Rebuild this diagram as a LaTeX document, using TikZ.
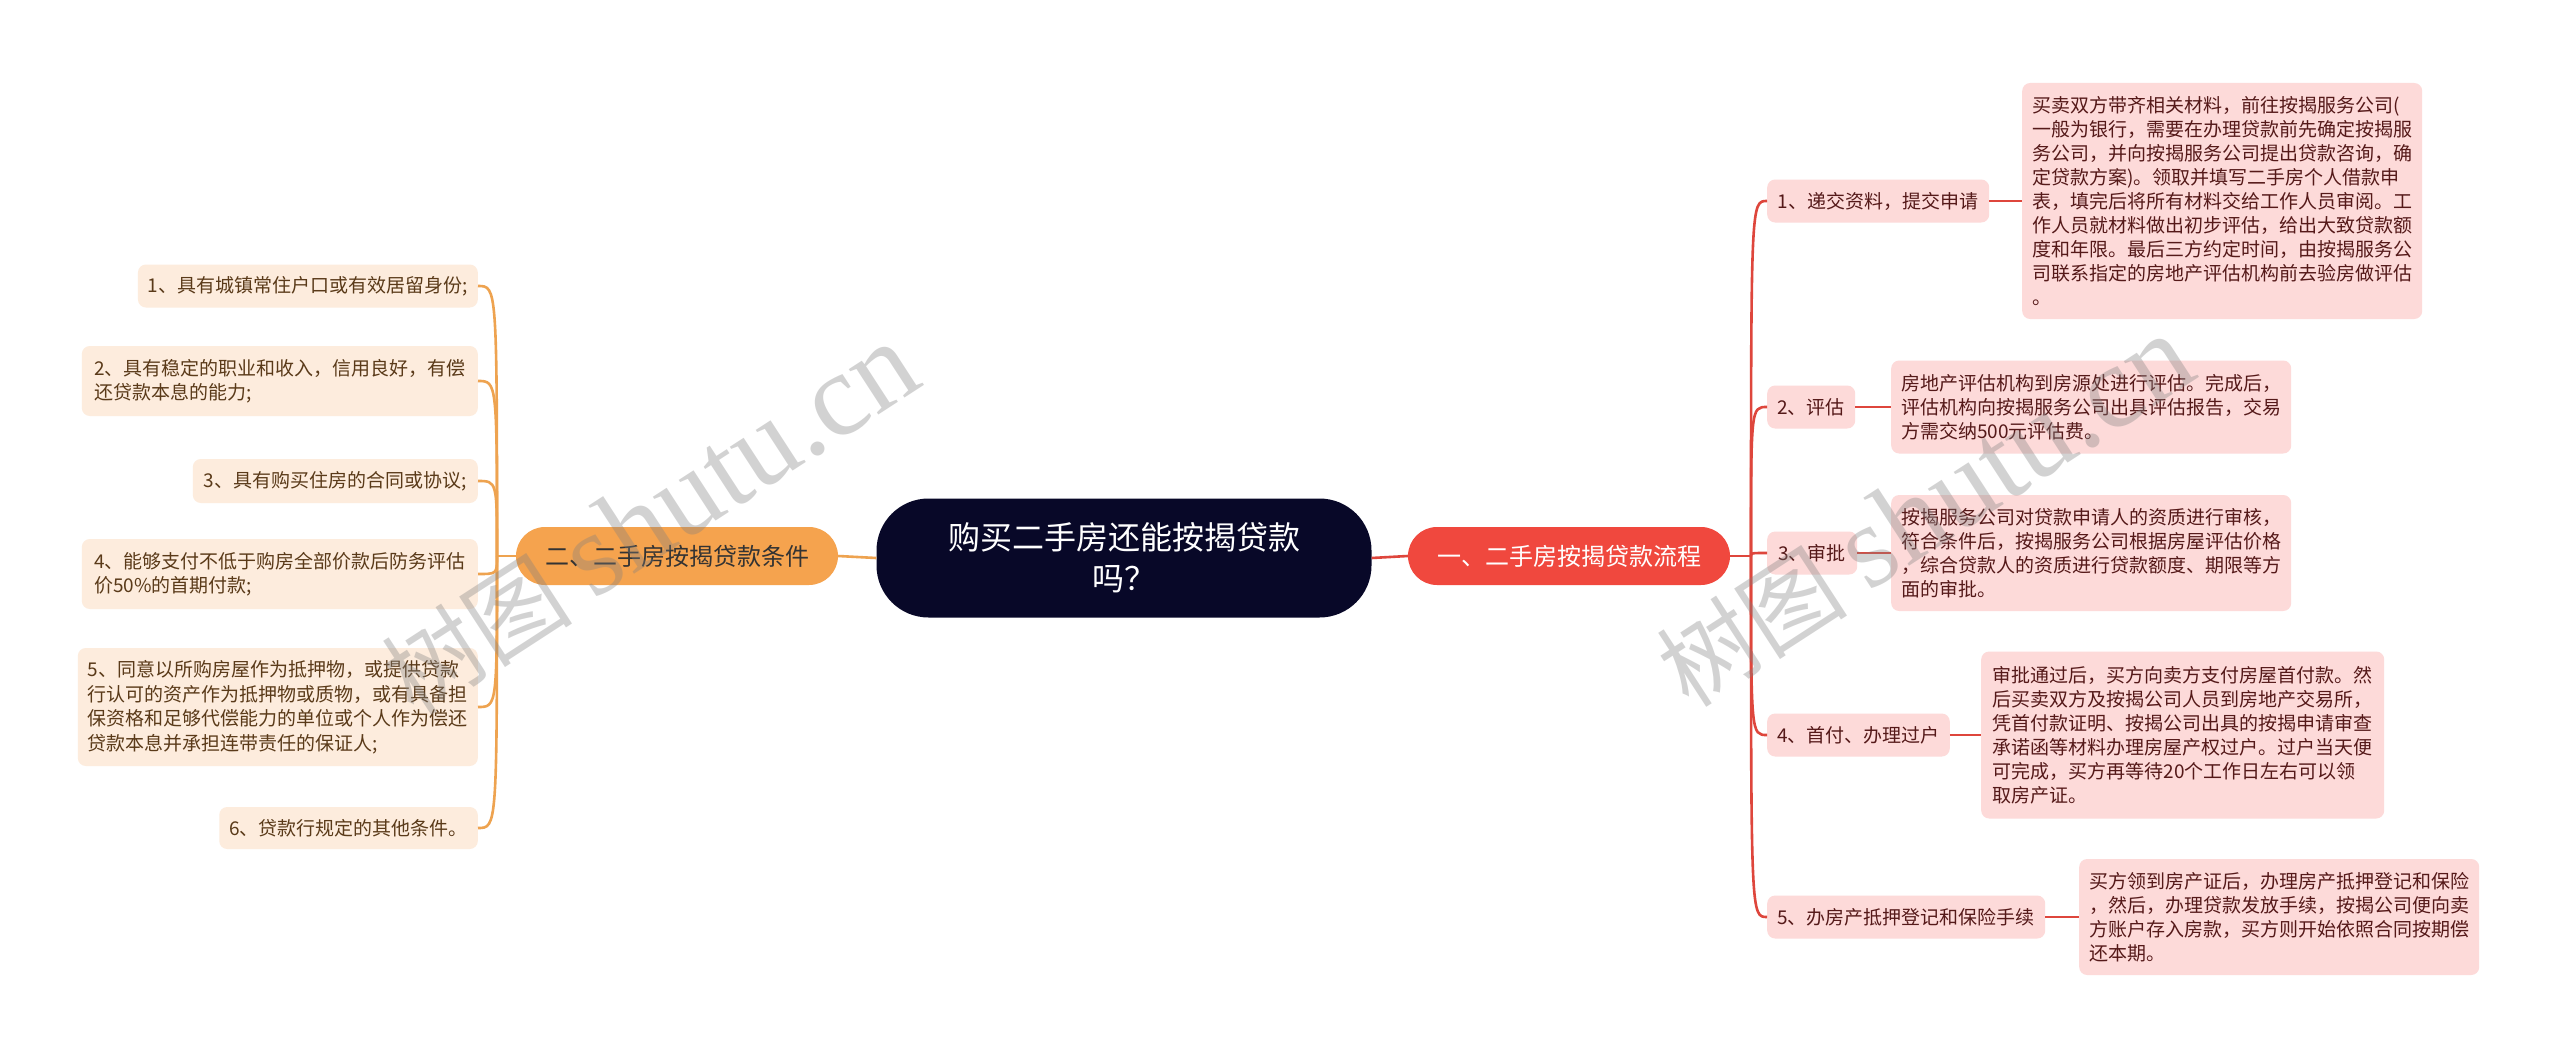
\documentclass[tikz,border=0pt]{standalone}
\usepackage{fontspec}
\setmainfont{Noto Sans CJK SC}
\newfontfamily\wmlatin{Liberation Serif}
\definecolor{rootbg}{RGB}{8,8,40}
\definecolor{redmain}{RGB}{240,72,62}
\definecolor{orangemain}{RGB}{245,163,78}
\definecolor{pinkbg}{RGB}{253,218,217}
\definecolor{peachbg}{RGB}{253,236,221}
\definecolor{redline}{RGB}{222,70,60}
\definecolor{orangeline}{RGB}{238,163,80}
\definecolor{redtext}{RGB}{85,25,25}
\definecolor{browntext}{RGB}{90,58,25}
\tikzset{
  rootbox/.style={rectangle, rounded corners=52pt, fill=rootbg, text=white, align=center,
    minimum width=495pt, minimum height=119pt, inner sep=0pt,
    font=\fontsize{32}{41}\selectfont},
  mainbox/.style={rectangle, rounded corners=29pt, minimum width=322pt, minimum height=58pt,
    inner sep=0pt, font=\fontsize{24}{28}\selectfont},
  pinkbox/.style={rectangle, rounded corners=8pt, fill=pinkbg, text=redtext, align=left,
    inner xsep=10pt, inner ysep=0pt, font=\fontsize{19}{24}\selectfont},
  peachbox/.style={rectangle, rounded corners=8pt, fill=peachbg, text=browntext, align=left,
    inner xsep=10pt, inner ysep=0pt, font=\fontsize{19}{24.5}\selectfont},
  rline/.style={draw=redline, line width=2.6pt},
  oline/.style={draw=orangeline, line width=2.6pt},
  wmark/.style={text=gray, opacity=0.35, text opacity=0.35, rotate=33, inner sep=0pt}
}
\begin{document}
\begin{tikzpicture}[x=1pt,y=-1pt]
\useasboundingbox[fill=white] (0,0) rectangle (2560,1054);

% root and main nodes
\node[rootbox] (root) at (1124,558) {购买二手房还能按揭贷款\\吗？};
\node[mainbox, fill=redmain, text=white] (mR) at (1569,556) {一、二手房按揭贷款流程};
\node[mainbox, fill=orangemain, text=black!80] (mL) at (677,556) {二、二手房按揭贷款条件};

\draw[rline] (root.east) -- (mR.west);
\draw[oline] (root.west) -- (mL.east);

% right sub nodes
\node[pinkbox, anchor=west, minimum width=222pt, minimum height=43pt] (s1) at (1767,201) {1、递交资料，提交申请};
\node[pinkbox, anchor=west, minimum width=88pt, minimum height=43pt] (s2) at (1767,407) {2、评估};
\node[pinkbox, anchor=west, minimum width=90pt, minimum height=43pt] (s3) at (1767,553) {3、审批};
\node[pinkbox, anchor=west, minimum width=181pt, minimum height=43pt] (s4) at (1767,735) {4、首付、办理过户};
\node[pinkbox, anchor=west, minimum width=278pt, minimum height=43pt] (s5) at (1767,917) {5、办房产抵押登记和保险手续};

% right detail boxes
\node[pinkbox, anchor=west, minimum width=400pt, minimum height=236pt] (d1) at (2022,201) {买卖双方带齐相关材料，前往按揭服务公司(\\一般为银行，需要在办理贷款前先确定按揭服\\务公司，并向按揭服务公司提出贷款咨询，确\\定贷款方案)。领取并填写二手房个人借款申\\表，填完后将所有材料交给工作人员审阅。工\\作人员就材料做出初步评估，给出大致贷款额\\度和年限。最后三方约定时间，由按揭服务公\\司联系指定的房地产评估机构前去验房做评估\\。};
\node[pinkbox, anchor=west, minimum width=399pt, minimum height=93pt] (d2) at (1891,407) {房地产评估机构到房源处进行评估。完成后，\\评估机构向按揭服务公司出具评估报告，交易\\方需交纳500元评估费。};
\node[pinkbox, anchor=west, minimum width=399pt, minimum height=116pt] (d3) at (1891,553) {按揭服务公司对贷款申请人的资质进行审核，\\符合条件后，按揭服务公司根据房屋评估价格\\，综合贷款人的资质进行贷款额度、期限等方\\面的审批。};
\node[pinkbox, anchor=west, minimum width=403pt, minimum height=167pt] (d4) at (1981,735) {审批通过后，买方向卖方支付房屋首付款。然\\后买卖双方及按揭公司人员到房地产交易所，\\凭首付款证明、按揭公司出具的按揭申请审查\\承诺函等材料办理房屋产权过户。过户当天便\\可完成，买方再等待20个工作日左右可以领\\取房产证。};
\node[pinkbox, anchor=west, minimum width=400pt, minimum height=116pt] (d5) at (2079,917) {买方领到房产证后，办理房产抵押登记和保险\\，然后，办理贷款发放手续，按揭公司便向卖\\方账户存入房款，买方则开始依照合同按期偿\\还本期。};

% right connectors
\coordinate (rt) at (1751,556);
\draw[rline] (mR.east) -- (rt);
\foreach \s in {s1,s2,s3,s4,s5}{
  \draw[rline] (rt) .. controls (rt |- \s.west) and (rt |- \s.west) .. (\s.west);
}
\foreach \s/\d in {s1/d1,s2/d2,s3/d3,s4/d4,s5/d5}{
  \draw[rline] (\s.east) -- (\d.west);
}

% left leaves
\node[peachbox, anchor=east, minimum width=336pt, minimum height=43pt] (l1) at (478,286) {1、具有城镇常住户口或有效居留身份;};
\node[peachbox, anchor=east, minimum width=396pt, minimum height=70pt] (l2) at (478,381) {2、具有稳定的职业和收入，信用良好，有偿\\还贷款本息的能力;};
\node[peachbox, anchor=east, minimum width=285pt, minimum height=44pt] (l3) at (478,481) {3、具有购买住房的合同或协议;};
\node[peachbox, anchor=east, minimum width=396pt, minimum height=70pt] (l4) at (478,574) {4、能够支付不低于购房全部价款后防务评估\\价50\%的首期付款;};
\node[peachbox, anchor=east, minimum width=396pt, minimum height=118pt] (l5) at (478,707) {5、同意以所购房屋作为抵押物，或提供贷款\\行认可的资产作为抵押物或质物，或有具备担\\保资格和足够代偿能力的单位或个人作为偿还\\贷款本息并承担连带责任的保证人;};
\node[peachbox, anchor=east, minimum width=256pt, minimum height=42pt] (l6) at (478,828) {6、贷款行规定的其他条件。};

% left connectors
\coordinate (lt) at (497,556);
\draw[oline] (mL.west) -- (lt);
\foreach \l in {l1,l2,l3,l4,l5,l6}{
  \draw[oline] (lt) .. controls (lt |- \l.east) and (lt |- \l.east) .. (\l.east);
}

% watermarks
\node[wmark] (wm1) at (650,520) {{\fontsize{96}{96}\selectfont 树图}\hspace{22pt}{\wmlatin\fontsize{118}{118}\selectfont shutu.cn}};
\node[wmark] (wm2) at (1925,512) {{\fontsize{96}{96}\selectfont 树图}\hspace{22pt}{\wmlatin\fontsize{118}{118}\selectfont shutu.cn}};
\end{tikzpicture}
\end{document}
